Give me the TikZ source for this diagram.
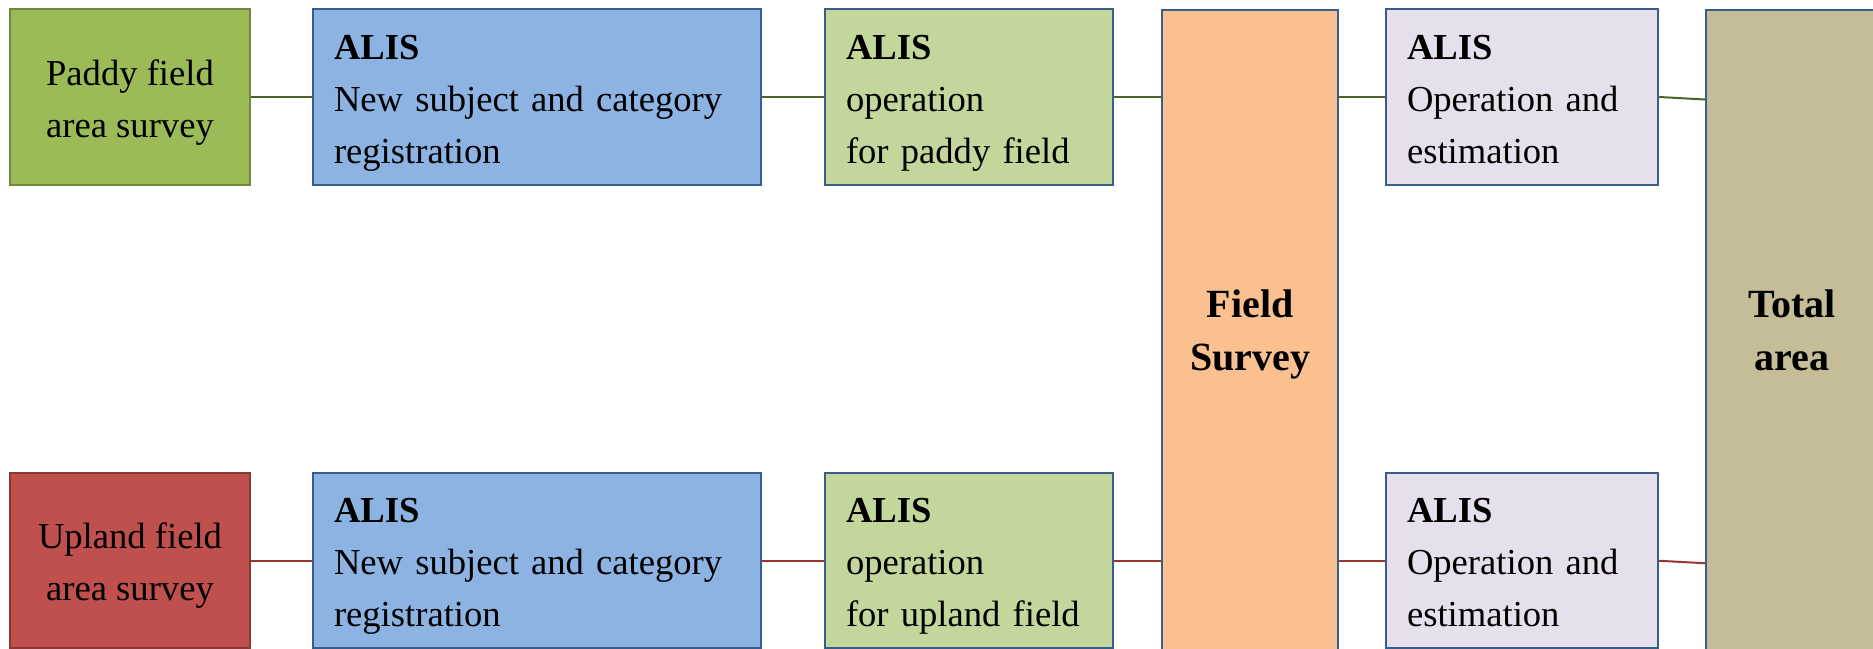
\documentclass[tikz,border=0pt]{standalone}
\usepackage{fontspec}
\setmainfont{Liberation Serif}
\usetikzlibrary{calc}
\newcommand\mytopstrut{\rule{0pt}{21.8pt}}
\definecolor{bordblue}{RGB}{56,93,138}
\definecolor{paddyfill}{RGB}{155,187,89}
\definecolor{paddyline}{RGB}{113,137,63}
\definecolor{uplandfill}{RGB}{192,80,77}
\definecolor{uplandline}{RGB}{140,56,54}
\definecolor{bluefill}{RGB}{141,179,226}
\definecolor{greenfill}{RGB}{195,214,155}
\definecolor{orangefill}{RGB}{250,192,144}
\definecolor{lavfill}{RGB}{229,224,236}
\definecolor{tanfill}{RGB}{196,189,151}
\definecolor{topwire}{RGB}{79,98,40}
\definecolor{botwire}{RGB}{158,52,50}
\begin{document}
\begin{tikzpicture}[x=0.5pt,y=-0.5pt,
  box/.style={draw=bordblue, line width=1.2pt, inner sep=0pt, minimum height=87.75pt,
    font=\fontsize{18.3}{26}\selectfont},
  cbox/.style={box, align=center, minimum width=#1},
  lbox/.style={box, align=left, inner xsep=10.5pt, text width=#1},
  tallbox/.style={box, align=center, minimum height=320.25pt, minimum width=#1,
    font=\fontsize{20}{26.5}\selectfont\bfseries},
  topline/.style={draw=topwire, line width=1pt},
  botline/.style={draw=botwire, line width=1pt}]
\useasboundingbox (0,0) rectangle (1873,648);
\clip (0,0) rectangle (1873,648);
% top row
\node[cbox=120.25pt, fill=paddyfill, draw=paddyline] (P) at (130,97) {\mytopstrut Paddy field\\area survey\strut};
\node[lbox=203pt, fill=bluefill] (B1) at (537,97) {\mytopstrut\textbf{ALIS}\\New subject and category\\registration\strut};
\node[lbox=123pt, fill=greenfill] (G1) at (969,97) {\mytopstrut\textbf{ALIS}\\operation\\for paddy field\strut};
\node[lbox=115pt, fill=lavfill] (L1) at (1522,97) {\mytopstrut\textbf{ALIS}\\Operation and\\estimation\strut};
% bottom row
\node[cbox=120.25pt, fill=uplandfill, draw=uplandline] (U) at (130,560.75) {\mytopstrut Upland field\\area survey\strut};
\node[lbox=203pt, fill=bluefill] (B2) at (537,560.75) {\mytopstrut\textbf{ALIS}\\New subject and category\\registration\strut};
\node[lbox=123pt, fill=greenfill] (G2) at (969,560.75) {\mytopstrut\textbf{ALIS}\\operation\\for upland field\strut};
\node[lbox=115pt, fill=lavfill] (L2) at (1522,560.75) {\mytopstrut\textbf{ALIS}\\Operation and\\estimation\strut};
% tall boxes
\node[tallbox=88pt, fill=orangefill] (O) at (1250,330) {\mytopstrut Field\\Survey\strut};
\node[tallbox=86pt, fill=tanfill] (T) at (1792,330) {\mytopstrut Total\\area\strut};
% connectors top
\draw[topline] (P) -- (B1);
\draw[topline] (B1) -- (G1);
\draw[topline] (G1.east) -- (G1.east -| O.west);
\draw[topline] (L1.west -| O.east) -- (L1.west);
\draw[topline] (L1.east) -- ($(L1.east -| T.west)+(0,2.5)$);
% connectors bottom
\draw[botline] (U) -- (B2);
\draw[botline] (B2) -- (G2);
\draw[botline] (G2.east) -- (G2.east -| O.west);
\draw[botline] (L2.west -| O.east) -- (L2.west);
\draw[botline] (L2.east) -- ($(L2.east -| T.west)+(0,2.5)$);
\end{tikzpicture}
\end{document}
